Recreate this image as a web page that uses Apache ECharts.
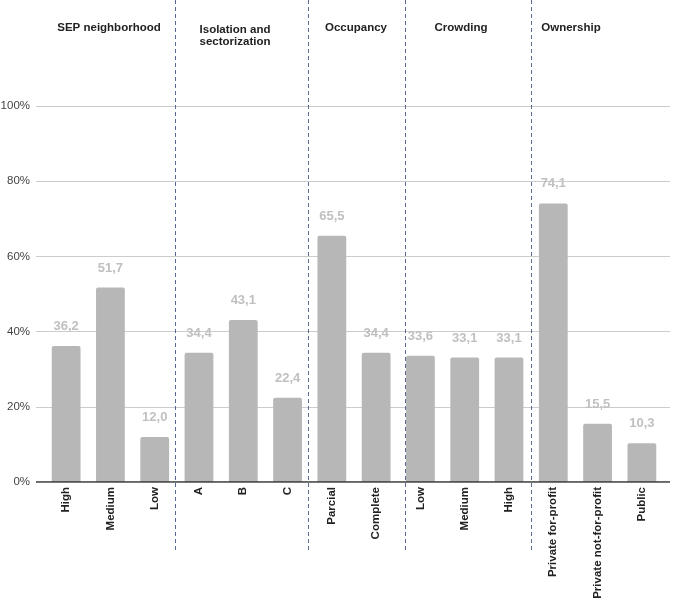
<!DOCTYPE html>
<html><head><meta charset="utf-8">
<script src="https://cdn.jsdelivr.net/npm/echarts@6/dist/echarts.min.js"></script>
<style>html,body{margin:0;padding:0;background:#fff}#c{width:674px;height:600px}</style>
</head><body><div id="c"></div>
<script>
const categories = ['High','Medium','Low','A','B','C','Parcial','Complete','Low ','Medium ','High ','Private for-profit','Private not-for-profit','Public'];
const values = [36.2,51.7,12.0,34.4,43.1,22.4,65.5,34.4,33.6,33.1,33.1,74.1,15.5,10.3];
const groupTitles = ['SEP neighborhood','Isolation and\nsectorization','Occupancy','Crowding','Ownership'];
const separators = [2.46,5.46,7.65,10.51];
const yTicks = [0,20,40,60,80,100];

const chart = echarts.init(document.getElementById('c'));
const font = 'Liberation Sans, Arial, sans-serif';
const titleX = [109,235,356,461,571];
chart.setOption({
  animation:false,
  grid:[
    {left:36,right:4,top:106,bottom:118,outerBoundsMode:'none',containLabel:false},
    {left:44,right:10,top:106,bottom:118,outerBoundsMode:'none',containLabel:false},
    {left:44,right:10,top:0,bottom:50,outerBoundsMode:'none',containLabel:false}
  ],
  xAxis:[
    {gridIndex:0,type:'value',min:0,max:1,show:false},
    {gridIndex:1,type:'category',data:categories,
     axisLine:{show:false},axisTick:{show:false},
     axisLabel:{rotate:90,interval:0,margin:5,fontFamily:font,fontWeight:'bold',fontSize:11.5,color:'#222',
       hideOverlap:false,formatter:v=>v.trim()}},
    {gridIndex:2,type:'value',min:-0.5,max:13.5,show:false}
  ],
  yAxis:[
    {gridIndex:0,type:'value',min:yTicks[0],max:yTicks[yTicks.length-1],interval:20,
     axisLine:{show:false},axisTick:{show:false},
     axisLabel:{formatter:'{value}%',fontFamily:font,fontSize:11.5,color:'#444',margin:6},
     splitLine:{lineStyle:{color:'#cccccc',width:1}}},
    {gridIndex:1,type:'value',min:0,max:100,show:false},
    {gridIndex:2,type:'value',min:0,max:1,show:false}
  ],
  series:[
    {type:'bar',xAxisIndex:1,yAxisIndex:1,data:values,barWidth:'65%',
     itemStyle:{color:'#b7b7b7',borderRadius:[2,2,0,0]},
     label:{show:true,position:'top',distance:13,fontFamily:font,fontWeight:'bold',fontSize:13,color:'#c0c0c0',
       formatter:p=>p.value.toFixed(1).replace('.',',')}},
    {type:'line',xAxisIndex:0,yAxisIndex:0,data:[[0,0],[1,0]],symbol:'none',
     lineStyle:{color:'#333',width:1.5},silent:true,z:5},
    {type:'scatter',xAxisIndex:2,yAxisIndex:2,data:[],silent:true,
     markLine:{symbol:'none',silent:true,label:{show:false},
       lineStyle:{color:'#5a6a90',type:[4,3],width:1},
       data:separators.map(s=>[{coord:[s,0]},{coord:[s,1]}])}}
  ],
  graphic:groupTitles.map((t,i)=>({type:'text',x:titleX[i],y:t.includes('\n')?24:22,
    style:{text:t,fontFamily:font,fontWeight:'bold',fontSize:11.5,fill:'#222',align:'center',lineHeight:12}}))
});
</script></body></html>
